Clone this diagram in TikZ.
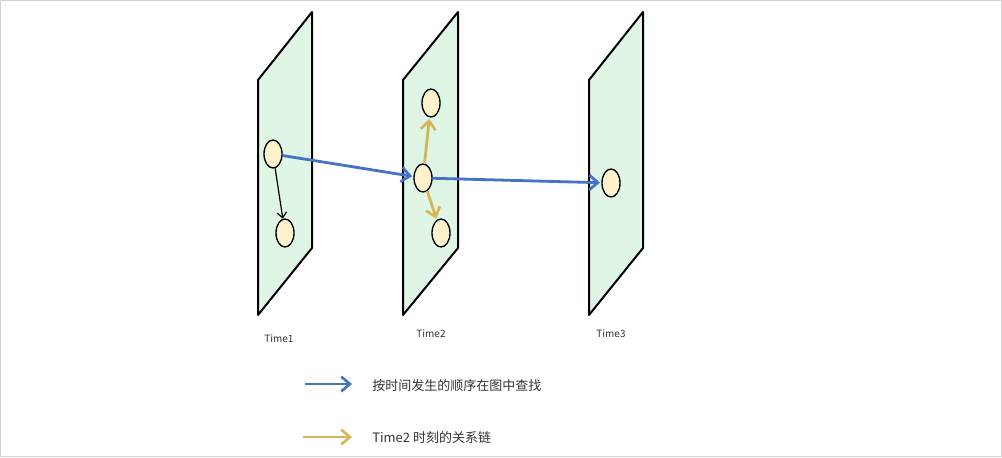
\documentclass[tikz,border=0pt]{standalone}
\usepackage{fontspec}
\setmainfont{Noto Sans CJK SC}
\usetikzlibrary{arrows.meta,shapes.geometric}
\definecolor{planefill}{HTML}{DFF5E6}
\definecolor{nodefill}{HTML}{FFF2CC}
\definecolor{blueA}{HTML}{4472C4}
\definecolor{goldA}{HTML}{D6B656}
\definecolor{txt}{HTML}{333333}
\definecolor{frame}{HTML}{D4D4D4}
\begin{document}
\begin{tikzpicture}[x=0.75pt,y=-0.75pt,
  plane/.style={draw=black,fill=planefill,line width=1.5pt,line join=round},
  ev/.style={ellipse,draw=black,fill=nodefill,line width=1pt,minimum width=13.5pt,minimum height=21pt,inner sep=0pt},
  barb/.style={-{Straight Barb[length=6.5pt,width=11pt,line width=2pt]}},
  bluearr/.style={draw=blueA,line width=2.1pt,barb},
  goldarr/.style={draw=goldA,line width=2.1pt,barb},
  blackarr/.style={draw=black,line width=0.9pt,-{Straight Barb[length=4pt,width=7pt,line width=0.9pt]}},
  lbl/.style={text=txt,font=\fontsize{7.5pt}{9pt}\selectfont,inner sep=0pt},
  leg/.style={text=txt,font=\fontsize{9.75pt}{12pt}\selectfont,inner sep=0pt,anchor=west}]
\draw[frame,line width=0.75pt,fill=white] (0.5,0.5) rectangle (1001.5,456.5);
\useasboundingbox (0,0) rectangle (1002,457);
% planes
\draw[plane] (258,80) -- (312,12) -- (312,248) -- (258,315) -- cycle;
\draw[plane] (403,80) -- (458,12) -- (458,248) -- (403,315) -- cycle;
\draw[plane] (589,80) -- (643,12) -- (643,248) -- (589,315) -- cycle;
% events
\node[ev] (a1) at (273,154) {};
\node[ev] (a2) at (285,233) {};
\node[ev] (b1) at (431,103) {};
\node[ev] (b2) at (423,178) {};
\node[ev] (b3) at (441,233) {};
\node[ev] (c1) at (611,183) {};
% connectors
\draw[blackarr] (a1) -- (a2);
\draw[bluearr,shorten >=1pt] (a1) -- (b2);
\draw[bluearr,shorten >=1pt] (b2) -- (c1);
\draw[goldarr,shorten >=1pt] (b2) -- (b1);
\draw[goldarr,shorten >=1pt] (b2) -- (b3);
% labels
\node[lbl] (t1) at (279,339) {Time1};
\node[lbl] (t2) at (431,334) {Time2};
\node[lbl] (t3) at (611,334) {Time3};
% legend
\coordinate (l1s) at (305,384);
\coordinate (l1e) at (352,384);
\coordinate (l2s) at (303,437);
\coordinate (l2e) at (352,437);
\draw[bluearr] (l1s) -- (l1e);
\draw[goldarr] (l2s) -- (l2e);
\node[leg] (lt1) at (372,386) {按时间发生的顺序在图中查找};
\node[leg] (lt2) at (372,438) {Time2 时刻的关系链};
\end{tikzpicture}
\end{document}
